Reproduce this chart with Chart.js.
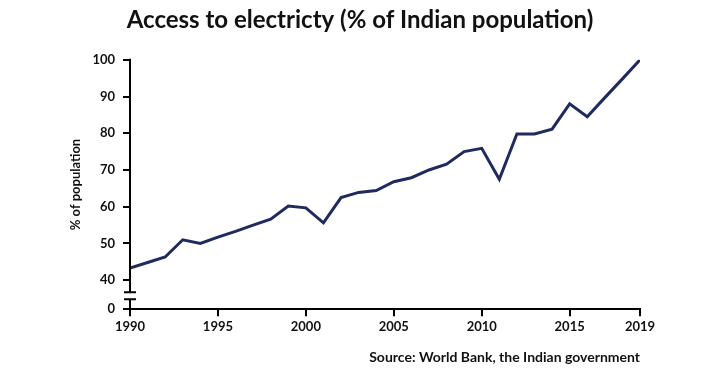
<!DOCTYPE html>
<html>
<head>
<meta charset="utf-8">
<script src="https://cdn.jsdelivr.net/npm/chart.js@4"></script>
<style>
  html, body { margin: 0; padding: 0; background: #fff; }
  #wrap { width: 720px; height: 378px; }
</style>
</head>
<body>
<div id="wrap"><canvas id="grafico"></canvas></div>
<script>
// datos
const years = [1990, 1991, 1992, 1993, 1994, 1995, 1996, 1997, 1998, 1999,
  2000, 2001, 2002, 2003, 2004, 2005, 2006, 2007, 2008, 2009,
  2010, 2011, 2012, 2013, 2014, 2015, 2016, 2017, 2018, 2019];
const access = [43.3, 44.8, 46.3, 51.0, 50.0, 51.7, 53.3, 55.0, 56.6, 60.2,
  59.7, 55.6, 62.5, 63.9, 64.4, 66.8, 67.9, 70.0, 71.6, 75.0,
  75.9, 67.5, 79.8, 79.8, 81.1, 88.0, 84.5, 89.7, 94.8, 100];
const xTicks = [1990, 1995, 2000, 2005, 2010, 2015, 2019];
const yTicks = [40, 50, 60, 70, 80, 90, 100];
const breakLabel = '0';
const yBottom = 32.1; // donde se dibuja el "0" despues del corte

const lineColor = '#1f2a5e';
const font = 'Lato';

// corte del eje y
const brokenAxis = {
  id: 'brokenAxis',
  afterDraw(chart) {
    const { ctx, scales: { y } } = chart;
    const x0 = y.right;
    const top = y.getPixelForValue(100);
    const bottom = y.getPixelForValue(yBottom);
    const b1 = y.getPixelForValue(36.7);
    const b2 = y.getPixelForValue(34.8);
    ctx.save();
    ctx.strokeStyle = '#000';
    ctx.lineWidth = 2;
    ctx.beginPath();
    ctx.moveTo(x0, top - 1);
    ctx.lineTo(x0, b1);
    ctx.moveTo(x0, b2);
    ctx.lineTo(x0, bottom);
    ctx.moveTo(x0 - 6, b1);
    ctx.lineTo(x0 + 6, b1);
    ctx.moveTo(x0 - 6, b2);
    ctx.lineTo(x0 + 6, b2);
    ctx.stroke();
    ctx.restore();
  }
};

const newChart = (canvas) => {
  const config = {
    type: 'line',
    data: {
      datasets: [{
        label: 'Access to electricity',
        data: years.map((yr, i) => ({ x: yr, y: access[i] })),
        borderColor: lineColor,
        borderWidth: 3,
        pointRadius: 0,
        tension: 0
      }]
    },
    options: {
      responsive: true,
      maintainAspectRatio: false,
      animation: false,
      layout: { padding: { left: 80, right: 80, top: 0, bottom: 0 } },
      plugins: {
        legend: { display: false },
        tooltip: { enabled: false },
        title: {
          display: true,
          text: 'Access to electricty (% of Indian population)',
          color: '#111',
          font: { family: font, size: 24, weight: 'bold' },
          padding: { top: 6, bottom: 25 }
        },
        subtitle: {
          display: true,
          position: 'bottom',
          align: 'end',
          text: 'Source: World Bank, the Indian government',
          color: '#111',
          font: { family: font, size: 14, weight: 'bold' },
          padding: { top: 9, bottom: 12 }
        }
      },
      scales: {
        x: {
          type: 'linear',
          min: 1990,
          max: 2019,
          afterBuildTicks: (scale) => { scale.ticks = xTicks.map((v) => ({ value: v })); },
          afterFit: (scale) => { scale.height = 31; },
          ticks: {
            color: '#111',
            font: { family: font, size: 13, weight: 'bold' },
            padding: 3,
            maxRotation: 0,
            callback: (v) => String(v)
          },
          grid: { drawOnChartArea: false, tickLength: 7, color: '#000', lineWidth: 2 },
          border: { display: true, color: '#000', width: 2 }
        },
        y: {
          type: 'linear',
          min: yBottom,
          max: 100,
          afterBuildTicks: (scale) => {
            scale.ticks = [yBottom].concat(yTicks).map((v) => ({ value: v }));
          },
          afterFit: (scale) => { scale.width = 50; },
          ticks: {
            color: '#111',
            font: { family: font, size: 13, weight: 'bold' },
            padding: 8,
            callback: (v) => (v < 40 ? breakLabel : String(v))
          },
          grid: { drawOnChartArea: false, tickLength: 7, color: '#000', lineWidth: 2 },
          border: { display: false },
          title: {
            display: true,
            text: '% of population',
            color: '#111',
            font: { family: font, size: 13, weight: 'bold' },
            padding: { top: -12, bottom: 0 }
          }
        }
      }
    },
    plugins: [brokenAxis]
  };
  return new Chart(document.getElementById(canvas), config);
};

newChart('grafico');
</script>
</body>
</html>
